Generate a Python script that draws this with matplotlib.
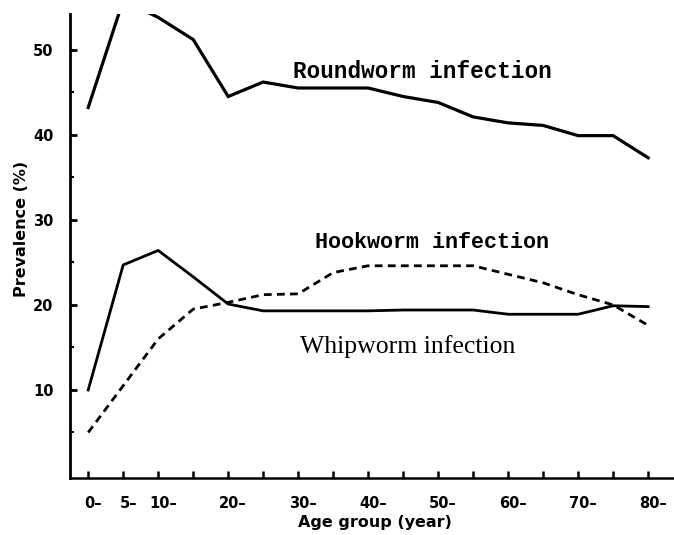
import matplotlib
matplotlib.use("Agg")
import matplotlib.pyplot as plt
import matplotlib.transforms as mtransforms

# ages (start of each 5-year group)
ages = [0, 5, 10, 15, 20, 25, 30, 35, 40, 45, 50, 55, 60, 65, 70, 75, 80]

roundworm = [43.2, 55.8, 53.8, 51.2, 44.5, 46.2, 45.5, 45.5, 45.5, 44.5,
             43.8, 42.1, 41.4, 41.1, 39.9, 39.9, 37.3]
hookworm = [5.0, 10.5, 16.0, 19.5, 20.3, 21.2, 21.3, 23.8, 24.6, 24.6,
            24.6, 24.6, 23.6, 22.6, 21.2, 20.0, 17.6]
whipworm = [10.0, 24.7, 26.4, 23.3, 20.1, 19.3, 19.3, 19.3, 19.3, 19.4,
            19.4, 19.4, 18.9, 18.9, 18.9, 19.9, 19.8]

xtick_pos = [0, 5, 10, 20, 30, 40, 50, 60, 70, 80]
xtick_labels = ["0–", "5–", "10–", "20–", "30–", "40–", "50–", "60–", "70–", "80–"]
ytick_pos = [10, 20, 30, 40, 50]

W, H = 674, 535
fig = plt.figure(figsize=(W / 100, H / 100), dpi=100)
ax = fig.add_axes([70 / W, 1 - 478 / H, 1 - 70 / W, (478 - 14) / H])

ax.plot(ages, roundworm, color="black", lw=2.3, solid_joinstyle="miter")
ax.plot(ages, whipworm, color="black", lw=2.0)
ax.plot(ages, hookworm, color="black", lw=2.0, linestyle=(0, (2.8, 1.9)))

ax.set_xlim(-2.6, 83.7)
ax.set_ylim(-0.35, 54.2)

for s in ["top", "right"]:
    ax.spines[s].set_visible(False)
ax.spines["left"].set_linewidth(2.0)
ax.spines["bottom"].set_linewidth(1.8)

ax.set_xticks(xtick_pos)
ax.set_xticklabels(xtick_labels)
ax.set_xticks(range(0, 85, 5), minor=True)
ax.set_yticks(ytick_pos)
ax.set_yticks([5, 15, 25, 35, 45], minor=True)

ax.tick_params(axis="x", which="both", direction="in", length=5, width=1.8, pad=13)
ax.tick_params(axis="y", which="major", direction="in", length=5, width=2, pad=12)
ax.tick_params(axis="y", which="minor", direction="in", length=3, width=1.5)

tick_font = dict(family="DejaVu Sans", weight="bold", size=10.5)
for lab in ax.get_yticklabels():
    lab.set_fontproperties(matplotlib.font_manager.FontProperties(**tick_font))
shift = mtransforms.ScaledTranslation(5 / 100, 0, fig.dpi_scale_trans)
for lab in ax.get_xticklabels():
    lab.set_fontproperties(matplotlib.font_manager.FontProperties(**tick_font))
    lab.set_transform(lab.get_transform() + shift)

fig.text(375 / W, 1 - 522 / H, "Age group (year)", ha="center", va="center",
         fontsize=11.5, fontweight="bold", family="DejaVu Sans")
fig.text(22 / W, 1 - 229 / H, "Prevalence (%)", ha="center", va="center",
         rotation=90, fontsize=11.5, fontweight="bold", family="DejaVu Sans")

ax.text(29.2, 47.4, "Roundworm infection", fontsize=16.3, fontweight="bold",
        family="Liberation Mono", va="center", ha="left")
ax.text(32.4, 27.3, "Hookworm infection", fontsize=15.7, fontweight="bold",
        family="Liberation Mono", va="center", ha="left")
ax.text(30.2, 15.1, "Whipworm infection", fontsize=18.5,
        family="Liberation Serif", va="center", ha="left")

fig.savefig("out.png", dpi=100)
